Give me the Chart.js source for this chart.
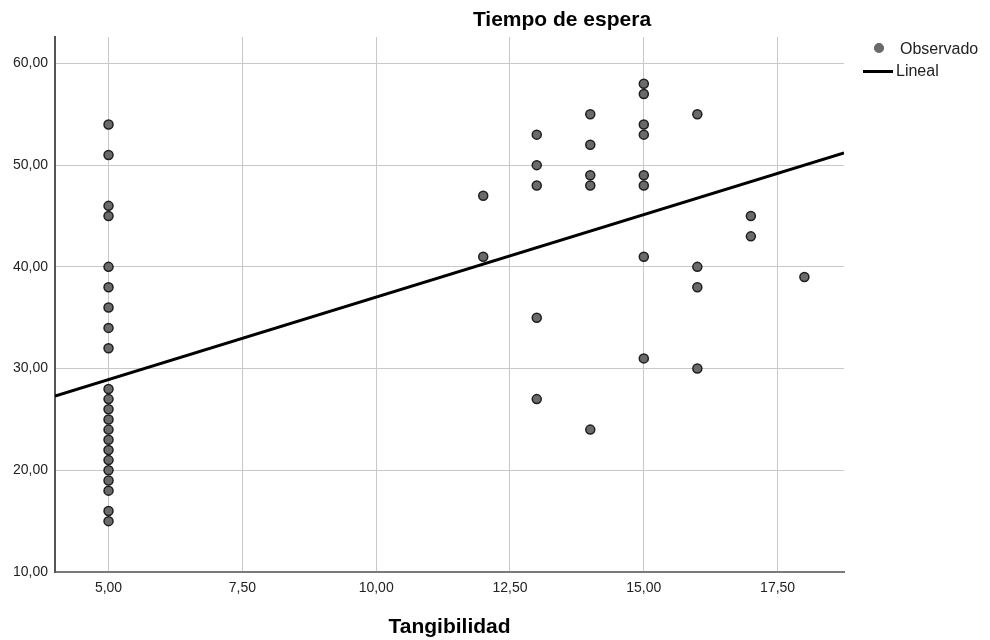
<!DOCTYPE html>
<html>
<head>
<meta charset="utf-8">
<script src="https://cdn.jsdelivr.net/npm/chart.js@4/dist/chart.umd.min.js"></script>
<style>
  body { margin: 0; background: #fff; }
  canvas { display: block; }
</style>
</head>
<body>
<canvas id="myChart" width="990" height="640"></canvas>
<script>
// observed points, grouped by Tangibilidad value
let tangibilidad = [
  5, 5, 5, 5, 5, 5, 5, 5, 5, 5, 5, 5, 5, 5, 5, 5, 5, 5, 5, 5, 5, 5,
  12, 12,
  13, 13, 13, 13, 13,
  14, 14, 14, 14, 14,
  15, 15, 15, 15, 15, 15, 15, 15,
  16, 16, 16, 16,
  17, 17,
  18,
];
let espera = [
  54, 51, 46, 45, 40, 38, 36, 34, 32, 28, 27, 26, 25, 24, 23, 22, 21, 20, 19, 18, 16, 15,
  47, 41,
  53, 50, 48, 35, 27,
  55, 52, 49, 48, 24,
  58, 57, 54, 53, 49, 48, 41, 31,
  55, 40, 38, 30,
  45, 43,
  39,
];

// fit line ends, read at the edges of the plot
let linealX = [4, 18.74];
let linealY = [27.3, 51.2];

let xTicks = [5, 7.5, 10, 12.5, 15, 17.5];
let yTicks = [10, 20, 30, 40, 50, 60];

const FONT = "'Liberation Sans', Arial, sans-serif";

function fmt(v) {
  return v.toFixed(2).replace(".", ",");
}

let observado = tangibilidad.map(function (x, i) {
  return { x: x, y: espera[i] };
});
let lineal = linealX.map(function (x, i) {
  return { x: x, y: linealY[i] };
});

// title + legend are drawn by hand, SPSS style
const extras = {
  id: "extras",
  afterDraw(chart) {
    const c = chart.ctx;
    c.save();
    c.fillStyle = "#000";
    c.font = "bold 21px " + FONT;
    c.textAlign = "center";
    c.textBaseline = "middle";
    c.fillText("Tiempo de espera", 562, 20);

    // legend
    c.beginPath();
    c.arc(879, 48, 4.5, 0, Math.PI * 2);
    c.fillStyle = "#6a6a6a";
    c.fill();
    c.lineWidth = 1.2;
    c.strokeStyle = "#6a6a6a";
    c.stroke();

    c.beginPath();
    c.moveTo(863, 71.5);
    c.lineTo(893, 71.5);
    c.lineWidth = 3;
    c.strokeStyle = "#000";
    c.stroke();

    c.font = "16px " + FONT;
    c.textAlign = "left";
    c.fillStyle = "#222";
    c.fillText("Observado", 900, 50);
    c.fillText("Lineal", 896, 72);
    c.restore();
  },
};

const ctx = document.getElementById("myChart");
const myChart = new Chart(ctx, {
  type: "scatter",
  data: {
    datasets: [
      {
        label: "Lineal",
        type: "line",
        data: lineal,
        borderColor: "#000",
        borderWidth: 3,
        pointRadius: 0,
        showLine: true,
        fill: false,
        order: 0,
      },
      {
        label: "Observado",
        data: observado,
        backgroundColor: "#6a6a6a",
        borderColor: "#1e1e1e",
        borderWidth: 1.5,
        pointRadius: 4.5,
        order: 1,
      },
    ],
  },
  plugins: [extras],
  options: {
    responsive: false,
    animation: false,
    layout: {
      padding: { top: 37, right: 146, left: 0, bottom: 0 },
    },
    plugins: {
      legend: { display: false },
      tooltip: { enabled: false },
      title: { display: false },
    },
    scales: {
      x: {
        type: "linear",
        min: 4,
        max: 18.74,
        afterBuildTicks: function (scale) {
          scale.ticks = xTicks.map(function (v) {
            return { value: v };
          });
        },
        afterFit: function (scale) {
          scale.height = 68;
        },
        grid: { color: "#c8c8c8", lineWidth: 1, drawTicks: false },
        border: { color: "#7a7a7a", width: 2 },
        ticks: {
          callback: fmt,
          autoSkip: false,
          maxRotation: 0,
          padding: 8,
          color: "#222",
          font: { family: FONT, size: 14 },
        },
        title: {
          display: true,
          text: "Tangibilidad",
          color: "#000",
          font: { family: FONT, size: 21, weight: "bold" },
          padding: { top: 0, bottom: 0 },
        },
      },
      y: {
        type: "linear",
        min: 10,
        max: 62.6,
        afterBuildTicks: function (scale) {
          scale.ticks = yTicks.map(function (v) {
            return { value: v };
          });
        },
        afterFit: function (scale) {
          scale.width = 55;
        },
        grid: { color: "#c8c8c8", lineWidth: 1, drawTicks: false },
        border: { color: "#555", width: 2 },
        ticks: {
          callback: fmt,
          autoSkip: false,
          padding: 7,
          color: "#222",
          font: { family: FONT, size: 14 },
        },
      },
    },
  },
});
</script>
</body>
</html>
